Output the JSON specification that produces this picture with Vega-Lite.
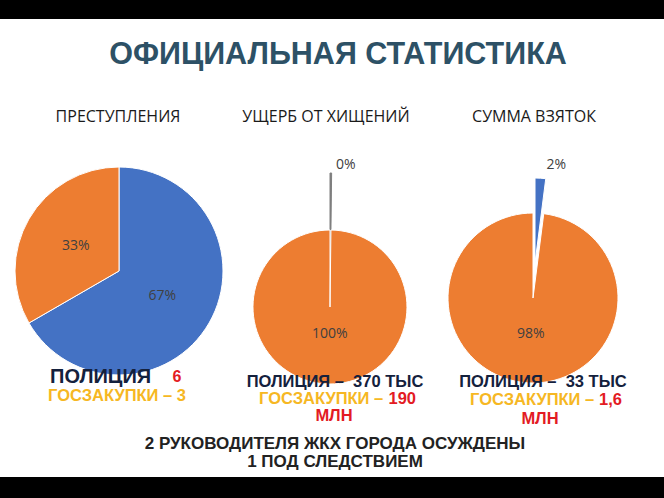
{
  "$schema": "https://vega.github.io/schema/vega-lite/v6.json",
  "width": 664,
  "height": 498,
  "autosize": {"type": "fit", "contains": "padding"},
  "padding": {"top": 19, "bottom": 21, "left": 0, "right": 0},
  "background": "#000000",
  "view": {"fill": "#ffffff", "stroke": null},
  "config": {"view": {"fill": "#ffffff", "stroke": null}},
  "datasets": {
    "slices": [
      {"chart": "ПРЕСТУПЛЕНИЯ", "category": "ПОЛИЦИЯ", "value": 6, "pct": "67%"},
      {"chart": "ПРЕСТУПЛЕНИЯ", "category": "ГОСЗАКУПКИ", "value": 3, "pct": "33%"},
      {"chart": "УЩЕРБ ОТ ХИЩЕНИЙ", "category": "ПОЛИЦИЯ", "value": 0.37, "pct": "0%"},
      {"chart": "УЩЕРБ ОТ ХИЩЕНИЙ", "category": "ГОСЗАКУПКИ", "value": 190, "pct": "100%"},
      {"chart": "СУММА ВЗЯТОК", "category": "ПОЛИЦИЯ", "value": 0.033, "pct": "2%"},
      {"chart": "СУММА ВЗЯТОК", "category": "ГОСЗАКУПКИ", "value": 1.6, "pct": "98%"}
    ],
    "charts": [
      {"chart": "ПРЕСТУПЛЕНИЯ"},
      {"chart": "УЩЕРБ ОТ ХИЩЕНИЙ"},
      {"chart": "СУММА ВЗЯТОК"}
    ],
    "notes": [
      {"chart": "ПРЕСТУПЛЕНИЯ", "key": "c1a", "text": "ПОЛИЦИЯ"},
      {"chart": "ПРЕСТУПЛЕНИЯ", "key": "c1b", "text": "6"},
      {"chart": "ПРЕСТУПЛЕНИЯ", "key": "c1c", "text": "ГОСЗАКУПКИ – 3"},
      {"chart": "УЩЕРБ ОТ ХИЩЕНИЙ", "key": "c2a", "text": "ПОЛИЦИЯ – \u00a0370 ТЫС"},
      {"chart": "УЩЕРБ ОТ ХИЩЕНИЙ", "key": "c2b", "text": "ГОСЗАКУПКИ –"},
      {"chart": "УЩЕРБ ОТ ХИЩЕНИЙ", "key": "c2c", "text": "190"},
      {"chart": "УЩЕРБ ОТ ХИЩЕНИЙ", "key": "c2d", "text": "МЛН"},
      {"chart": "СУММА ВЗЯТОК", "key": "c3a", "text": "ПОЛИЦИЯ – \u00a033 ТЫС"},
      {"chart": "СУММА ВЗЯТОК", "key": "c3b", "text": "ГОСЗАКУПКИ –"},
      {"chart": "СУММА ВЗЯТОК", "key": "c3c", "text": "1,6"},
      {"chart": "СУММА ВЗЯТОК", "key": "c3d", "text": "МЛН"}
    ],
    "captions": [
      {"key": "title", "text": "ОФИЦИАЛЬНАЯ СТАТИСТИКА"},
      {"key": "foot", "text": "2 РУКОВОДИТЕЛЯ ЖКХ ГОРОДА ОСУЖДЕНЫ\n1 ПОД СЛЕДСТВИЕМ"}
    ]
  },
  "layer": [
    {
      "data": {"name": "slices"},
      "transform": [{"filter": "datum.chart == 'ПРЕСТУПЛЕНИЯ'"}],
      "mark": {"type": "arc", "radius": 104, "xOffset": 1, "yOffset": 23, "stroke": "#ffffff", "strokeWidth": 1},
      "encoding": {
        "x": {"field": "chart", "type": "nominal", "scale": {"type": "point", "domain": ["ПРЕСТУПЛЕНИЯ", "УЩЕРБ ОТ ХИЩЕНИЙ", "СУММА ВЗЯТОК"], "range": [118, 534], "padding": 0}, "axis": null},
        "theta": {"field": "value", "type": "quantitative", "stack": "normalize"},
        "order": {"field": "category", "type": "ordinal", "sort": "descending"},
        "color": {"field": "category", "type": "nominal", "scale": {"domain": ["ПОЛИЦИЯ", "ГОСЗАКУПКИ"], "range": ["#4472C4", "#ED7D31"]}, "legend": null}
      }
    },
    {
      "data": {"name": "slices"},
      "transform": [{"filter": "datum.chart == 'ПРЕСТУПЛЕНИЯ'"}],
      "mark": {"type": "text", "radius": 50, "xOffset": 1, "yOffset": 23, "font": "Open Sans", "fontSize": 14, "color": "#404040"},
      "encoding": {
        "x": {"field": "chart", "type": "nominal", "axis": null},
        "theta": {"field": "value", "type": "quantitative", "stack": "normalize"},
        "order": {"field": "category", "type": "ordinal", "sort": "descending"},
        "text": {"field": "pct"}
      }
    },
    {
      "data": {"name": "slices"},
      "transform": [{"filter": "datum.chart == 'УЩЕРБ ОТ ХИЩЕНИЙ'"}],
      "mark": {"type": "arc", "radius": 134, "xOffset": 4, "yOffset": 59, "stroke": "#7f7f7f", "strokeWidth": 1, "fill": "#7f7f7f"},
      "encoding": {
        "x": {"field": "chart", "type": "nominal", "axis": null},
        "theta": {"field": "value", "type": "quantitative", "stack": "normalize"},
        "order": {"field": "category", "type": "ordinal", "sort": "descending"},
        "opacity": {"condition": {"test": "datum.category == 'ГОСЗАКУПКИ'", "value": 0}, "value": 1}
      }
    },
    {
      "data": {"name": "slices"},
      "transform": [{"filter": "datum.chart == 'УЩЕРБ ОТ ХИЩЕНИЙ'"}],
      "mark": {"type": "arc", "radius": 77, "xOffset": 4, "yOffset": 59, "stroke": "#ffffff", "strokeWidth": 1},
      "encoding": {
        "x": {"field": "chart", "type": "nominal", "axis": null},
        "theta": {"field": "value", "type": "quantitative", "stack": "normalize"},
        "order": {"field": "category", "type": "ordinal", "sort": "descending"},
        "color": {"field": "category", "type": "nominal", "legend": null},
        "opacity": {"condition": {"test": "datum.category == 'ПОЛИЦИЯ'", "value": 0}, "value": 1}
      }
    },
    {
      "data": {"name": "slices"},
      "transform": [{"filter": "datum.chart == 'УЩЕРБ ОТ ХИЩЕНИЙ'"}],
      "mark": {"type": "text", "radius": 27, "xOffset": 4, "yOffset": 59, "font": "Open Sans", "fontSize": 14, "color": "#404040"},
      "encoding": {
        "x": {"field": "chart", "type": "nominal", "axis": null},
        "theta": {"field": "value", "type": "quantitative", "stack": "normalize"},
        "order": {"field": "category", "type": "ordinal", "sort": "descending"},
        "text": {"field": "pct"},
        "opacity": {"condition": {"test": "datum.category == 'ПОЛИЦИЯ'", "value": 0}, "value": 1}
      }
    },
    {
      "data": {"name": "slices"},
      "transform": [{"filter": "datum.chart == 'УЩЕРБ ОТ ХИЩЕНИЙ'"}],
      "mark": {"type": "text", "radius": 142, "xOffset": 4, "yOffset": 59, "dx": 15, "font": "Open Sans", "fontSize": 14, "color": "#404040"},
      "encoding": {
        "x": {"field": "chart", "type": "nominal", "axis": null},
        "theta": {"field": "value", "type": "quantitative", "stack": "normalize"},
        "order": {"field": "category", "type": "ordinal", "sort": "descending"},
        "text": {"field": "pct"},
        "opacity": {"condition": {"test": "datum.category == 'ГОСЗАКУПКИ'", "value": 0}, "value": 1}
      }
    },
    {
      "data": {"name": "slices"},
      "transform": [{"filter": "datum.chart == 'СУММА ВЗЯТОК'"}],
      "mark": {"type": "arc", "radius": 85, "xOffset": -1, "yOffset": 50, "stroke": "#ffffff", "strokeWidth": 1},
      "encoding": {
        "x": {"field": "chart", "type": "nominal", "axis": null},
        "theta": {"field": "value", "type": "quantitative", "stack": "normalize"},
        "order": {"field": "category", "type": "ordinal", "sort": "descending"},
        "color": {"field": "category", "type": "nominal", "legend": null},
        "opacity": {"condition": {"test": "datum.category == 'ПОЛИЦИЯ'", "value": 0}, "value": 1}
      }
    },
    {
      "data": {"name": "slices"},
      "transform": [{"filter": "datum.chart == 'СУММА ВЗЯТОК'"}],
      "mark": {"type": "arc", "radius": 85, "xOffset": 1, "yOffset": 15, "stroke": "#ffffff", "strokeWidth": 1},
      "encoding": {
        "x": {"field": "chart", "type": "nominal", "axis": null},
        "theta": {"field": "value", "type": "quantitative", "stack": "normalize"},
        "order": {"field": "category", "type": "ordinal", "sort": "descending"},
        "color": {"field": "category", "type": "nominal", "legend": null},
        "opacity": {"condition": {"test": "datum.category == 'ГОСЗАКУПКИ'", "value": 0}, "value": 1}
      }
    },
    {
      "data": {"name": "slices"},
      "transform": [{"filter": "datum.chart == 'СУММА ВЗЯТОК'"}],
      "mark": {"type": "text", "radius": 36, "xOffset": -1, "yOffset": 50, "font": "Open Sans", "fontSize": 14, "color": "#404040"},
      "encoding": {
        "x": {"field": "chart", "type": "nominal", "axis": null},
        "theta": {"field": "value", "type": "quantitative", "stack": "normalize"},
        "order": {"field": "category", "type": "ordinal", "sort": "descending"},
        "text": {"field": "pct"},
        "opacity": {"condition": {"test": "datum.category == 'ПОЛИЦИЯ'", "value": 0}, "value": 1}
      }
    },
    {
      "data": {"name": "slices"},
      "transform": [{"filter": "datum.chart == 'СУММА ВЗЯТОК'"}],
      "mark": {"type": "text", "radius": 98, "xOffset": 1, "yOffset": 15, "dx": 15, "font": "Open Sans", "fontSize": 14, "color": "#404040"},
      "encoding": {
        "x": {"field": "chart", "type": "nominal", "axis": null},
        "theta": {"field": "value", "type": "quantitative", "stack": "normalize"},
        "order": {"field": "category", "type": "ordinal", "sort": "descending"},
        "text": {"field": "pct"},
        "opacity": {"condition": {"test": "datum.category == 'ГОСЗАКУПКИ'", "value": 0}, "value": 1}
      }
    },
    {
      "data": {"name": "charts"},
      "mark": {"type": "text", "dy": -131, "font": "Open Sans", "fontWeight": 500, "fontSize": 16, "color": "#1a1a1a"},
      "encoding": {
        "x": {"field": "chart", "type": "nominal", "axis": null},
        "text": {"field": "chart"}
      }
    },
    {
      "data": {"name": "captions"},
      "transform": [{"filter": "datum.key == 'title'"}],
      "mark": {"type": "text", "dx": 6, "dy": -193, "font": "Liberation Sans", "fontWeight": "bold", "fontSize": 30.5, "color": "#2d5166"},
      "encoding": {"text": {"field": "text"}}
    },
    {
      "data": {"name": "captions"},
      "transform": [{"filter": "datum.key == 'foot'"}],
      "mark": {"type": "text", "dx": 3, "dy": 196, "baseline": "middle", "lineBreak": "\n", "lineHeight": 18, "font": "Liberation Sans", "fontWeight": "bold", "fontSize": 17, "color": "#222222"},
      "encoding": {"text": {"field": "text"}}
    },
    {
      "data": {"name": "notes"},
      "transform": [{"filter": "datum.key == 'c1a'"}],
      "mark": {"type": "text", "align": "left", "dx": -68, "dy": 129, "font": "Liberation Sans", "fontWeight": "bold", "fontSize": 20, "color": "#14213d"},
      "encoding": {"x": {"field": "chart", "type": "nominal", "axis": null}, "text": {"field": "text"}}
    },
    {
      "data": {"name": "notes"},
      "transform": [{"filter": "datum.key == 'c1b'"}],
      "mark": {"type": "text", "align": "center", "dx": 59, "dy": 129, "font": "Liberation Sans", "fontWeight": "bold", "fontSize": 16, "color": "#e31b23"},
      "encoding": {"x": {"field": "chart", "type": "nominal", "axis": null}, "text": {"field": "text"}}
    },
    {
      "data": {"name": "notes"},
      "transform": [{"filter": "datum.key == 'c1c'"}],
      "mark": {"type": "text", "align": "center", "dx": -1, "dy": 148, "font": "Liberation Sans", "fontWeight": "bold", "fontSize": 16.5, "color": "#f6b723"},
      "encoding": {"x": {"field": "chart", "type": "nominal", "axis": null}, "text": {"field": "text"}}
    },
    {
      "data": {"name": "notes"},
      "transform": [{"filter": "datum.key == 'c2a' || datum.key == 'c3a'"}],
      "mark": {"type": "text", "align": "center", "dx": 9, "dy": 133.5, "font": "Liberation Sans", "fontWeight": "bold", "fontSize": 16.5, "color": "#14213d"},
      "encoding": {"x": {"field": "chart", "type": "nominal", "axis": null}, "text": {"field": "text"}}
    },
    {
      "data": {"name": "notes"},
      "transform": [{"filter": "datum.key == 'c2b'"}],
      "mark": {"type": "text", "align": "left", "dx": -67, "dy": 150.5, "font": "Liberation Sans", "fontWeight": "bold", "fontSize": 16.5, "color": "#f6b723"},
      "encoding": {"x": {"field": "chart", "type": "nominal", "axis": null}, "text": {"field": "text"}}
    },
    {
      "data": {"name": "notes"},
      "transform": [{"filter": "datum.key == 'c2c'"}],
      "mark": {"type": "text", "align": "right", "dx": 90, "dy": 150.5, "font": "Liberation Sans", "fontWeight": "bold", "fontSize": 16.5, "color": "#e31b23"},
      "encoding": {"x": {"field": "chart", "type": "nominal", "axis": null}, "text": {"field": "text"}}
    },
    {
      "data": {"name": "notes"},
      "transform": [{"filter": "datum.key == 'c3b'"}],
      "mark": {"type": "text", "align": "left", "dx": -64, "dy": 152, "font": "Liberation Sans", "fontWeight": "bold", "fontSize": 16.5, "color": "#f6b723"},
      "encoding": {"x": {"field": "chart", "type": "nominal", "axis": null}, "text": {"field": "text"}}
    },
    {
      "data": {"name": "notes"},
      "transform": [{"filter": "datum.key == 'c3c'"}],
      "mark": {"type": "text", "align": "right", "dx": 88, "dy": 152, "font": "Liberation Sans", "fontWeight": "bold", "fontSize": 16.5, "color": "#e31b23"},
      "encoding": {"x": {"field": "chart", "type": "nominal", "axis": null}, "text": {"field": "text"}}
    },
    {
      "data": {"name": "notes"},
      "transform": [{"filter": "datum.key == 'c2d'"}],
      "mark": {"type": "text", "align": "center", "dx": 8, "dy": 167.5, "font": "Liberation Sans", "fontWeight": "bold", "fontSize": 16.5, "color": "#e31b23"},
      "encoding": {"x": {"field": "chart", "type": "nominal", "axis": null}, "text": {"field": "text"}}
    },
    {
      "data": {"name": "notes"},
      "transform": [{"filter": "datum.key == 'c3d'"}],
      "mark": {"type": "text", "align": "center", "dx": 6, "dy": 171, "font": "Liberation Sans", "fontWeight": "bold", "fontSize": 16.5, "color": "#e31b23"},
      "encoding": {"x": {"field": "chart", "type": "nominal", "axis": null}, "text": {"field": "text"}}
    }
  ]
}
